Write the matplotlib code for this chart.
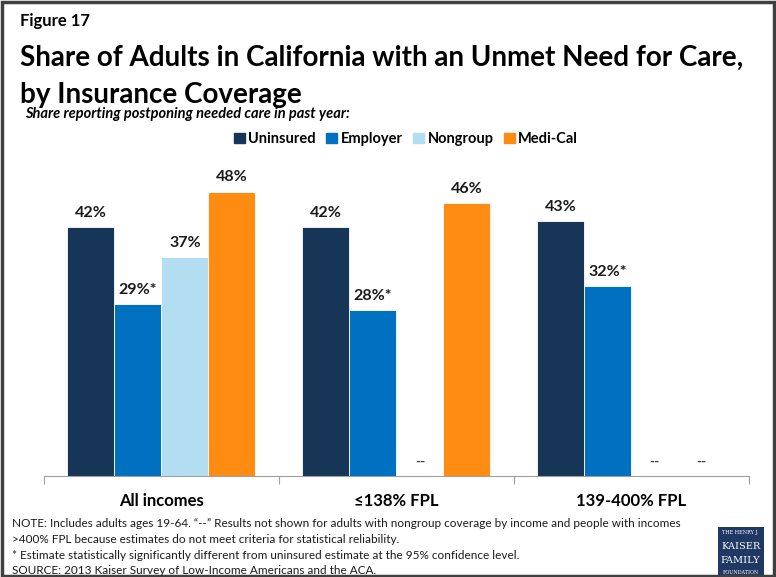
import numpy as np
import matplotlib.pyplot as plt
from matplotlib.patches import Rectangle

groups = ["All incomes", "\u2264138% FPL", "139-400% FPL"]
series = ["Uninsured", "Employer", "Nongroup", "Medi-Cal"]
colors = ["#163557", "#0070C0", "#B3DEF2", "#FF8C12"]
# None = estimate not shown
values = [
    [42, 42, 43],
    [29, 28, 32],
    [37, None, None],
    [48, 46, None],
]
labels = [
    ["42%", "42%", "43%"],
    ["29%*", "28%*", "32%*"],
    ["37%", "--", "--"],
    ["48%", "46%", "--"],
]

plt.rcParams['font.family'] = ['Lato', 'DejaVu Sans']

fig = plt.figure(figsize=(7.76, 5.77), dpi=100)
ax = fig.add_axes([0.0567, 0.175, 0.9083, 0.534])

x = np.arange(len(groups))
w = 0.2
for i, name in enumerate(series):
    pos = x + (i - 1.5) * w
    for j, v in enumerate(values[i]):
        if v is None:
            ax.text(pos[j], 1.4, labels[i][j], ha='center', va='bottom',
                    fontsize=10, fontweight='bold', color='#404040')
            continue
        ax.bar(pos[j], v, w, color=colors[i], edgecolor='white', linewidth=0.6)
        ax.text(pos[j], v + 1.2, labels[i][j], ha='center', va='bottom',
                fontsize=11.5, fontweight='bold', color='#1a1a1a')

ax.set_xlim(-0.5, 2.5)
ax.set_ylim(0, 52)
ax.set_yticks([])
for s in ['top', 'right', 'left']:
    ax.spines[s].set_visible(False)
ax.spines['bottom'].set_color('#a0a0a0')
ax.set_xticks([-0.5, 0.5, 1.5, 2.5])
ax.set_xticklabels([])
ax.tick_params(axis='x', length=6, color='#a0a0a0')
for j, g in enumerate(groups):
    ax.text(x[j], -2.9, g, ha='center', va='top', fontsize=12,
            fontweight='bold', color='black')

# legend row
handles = [Rectangle((0, 0), 1, 1, color=c) for c in colors]
fig.legend(handles, series, loc='center', bbox_to_anchor=(0.523, 0.759),
           ncol=4, frameon=False, handlelength=0.75,
           handleheight=0.75, handletextpad=0.25, columnspacing=0.7,
           prop={'weight': 'bold', 'size': 10.5})

fig.text(0.026, 0.963, "Figure 17", fontsize=12, fontweight='bold', va='center')
fig.text(0.026, 0.899, "Share of Adults in California with an Unmet Need for Care,",
         fontsize=20, fontweight='bold', va='center')
fig.text(0.026, 0.836, "by Insurance Coverage", fontsize=20,
         fontweight='bold', va='center')
fig.text(0.032, 0.803, "Share reporting postponing needed care in past year:",
         fontsize=10.5, fontweight='bold', style='italic', va='center')

notes = [
    "NOTE: Includes adults ages 19-64. \u201c--\u201d Results not shown for adults with nongroup coverage by income and people with incomes",
    ">400% FPL because estimates do not meet criteria for statistical reliability.",
    "* Estimate statistically significantly different from uninsured estimate at the 95% confidence level.",
    "SOURCE: 2013 Kaiser Survey of Low-Income Americans and the ACA.",
]
for k, line in enumerate(notes):
    fig.text(0.016, 0.093 - k * 0.0275, line, fontsize=8.5, va='center', color='#1a1a1a')

# foundation logo block
logo = fig.add_axes([0.925, 0.0, 0.059, 0.087])
logo.set_xlim(0, 1)
logo.set_ylim(0, 1)
logo.axis('off')
logo.add_patch(Rectangle((0, 0), 1, 1, color='#1f3864'))
logo.text(0.5, 0.88, "THE HENRY J.", color='white', ha='center', va='center',
          fontsize=3.5, family='DejaVu Serif')
logo.text(0.5, 0.6, "KAISER", color='white', ha='center', va='center',
          fontsize=7, family='DejaVu Serif')
logo.text(0.5, 0.33, "FAMILY", color='white', ha='center', va='center',
          fontsize=7, family='DejaVu Serif')
logo.text(0.5, 0.09, "FOUNDATION", color='white', ha='center', va='center',
          fontsize=3.5, family='DejaVu Serif')

# outer frame
fig.add_artist(Rectangle((0.002, 0.002), 0.996, 0.995, transform=fig.transFigure,
                         fill=False, edgecolor='#404040', linewidth=2.5))

fig.savefig("out.png", dpi=100)
